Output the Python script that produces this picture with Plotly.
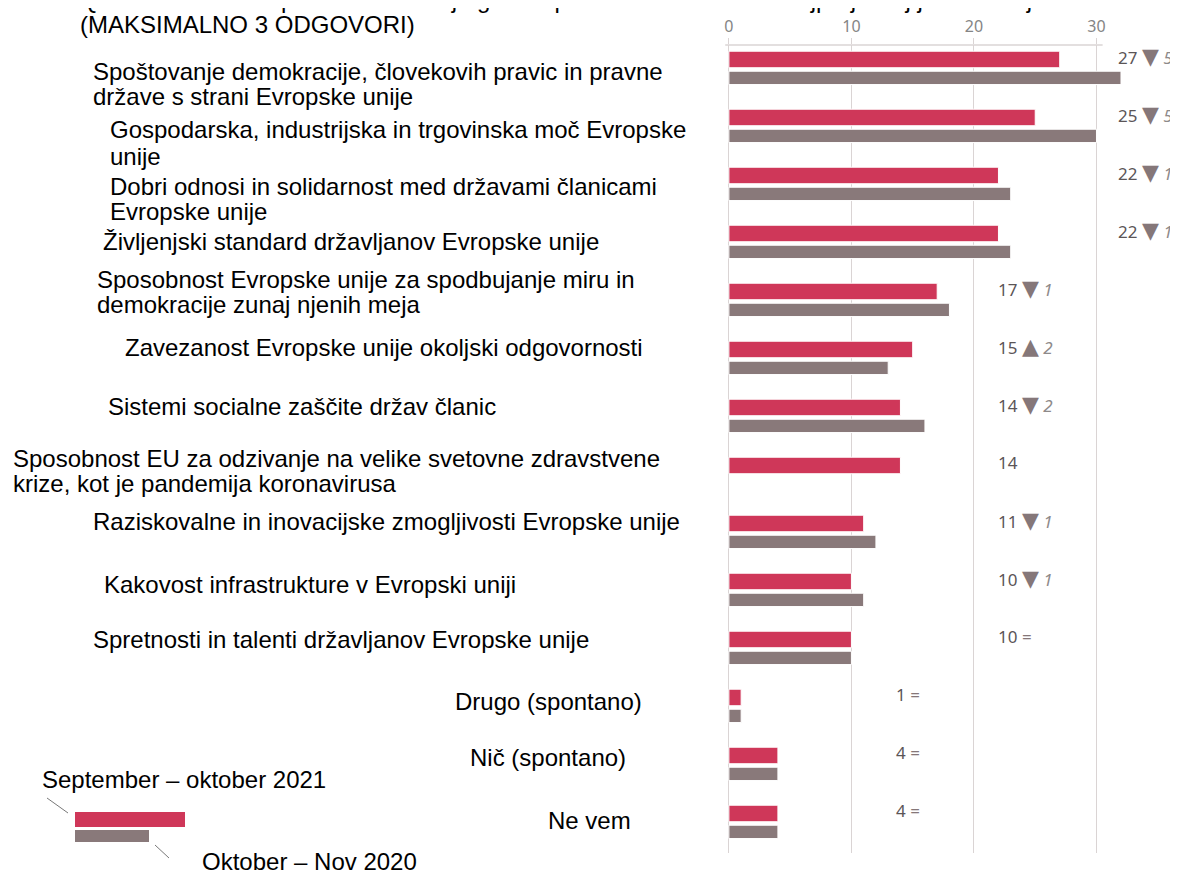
import plotly.graph_objects as go

# ---------------- data ----------------
CATEGORIES = [
    "Spoštovanje demokracije, človekovih pravic in pravne<br>države s strani Evropske unije",
    "Gospodarska, industrijska in trgovinska moč Evropske<br>unije",
    "Dobri odnosi in solidarnost med državami članicami<br>Evropske unije",
    "Življenjski standard državljanov Evropske unije",
    "Sposobnost Evropske unije za spodbujanje miru in<br>demokracije zunaj njenih meja",
    "Zavezanost Evropske unije okoljski odgovornosti",
    "Sistemi socialne zaščite držav članic",
    "Sposobnost EU za odzivanje na velike svetovne zdravstvene<br>krize, kot je pandemija koronavirusa",
    "Raziskovalne in inovacijske zmogljivosti Evropske unije",
    "Kakovost infrastrukture v Evropski uniji",
    "Spretnosti in talenti državljanov Evropske unije",
    "Drugo (spontano)",
    "Nič (spontano)",
    "Ne vem",
]
VAL_2021 = [27, 25, 22, 22, 17, 15, 14, 14, 11, 10, 10, 1, 4, 4]
VAL_2020 = [32, 30, 23, 23, 18, 13, 16, None, 12, 11, 10, 1, 4, 4]
SERIES_NAMES = ["September – oktober 2021", "Oktober – Nov 2020"]
TICKS = [0, 10, 20, 30]
TITLE_LINES = [
    "QA15T Kakšna so po vašem mnenju glavna prednost EU danes? Najprej? Kaj je naslednje?",
    "(MAKSIMALNO 3 ODGOVORI)",
]

# ---------------- styling / layout ----------------
RED = "#CF3759"
GREY = "#89797A"
GRID = "#DAD4D4"
# the page body has an 8px default margin: work in window pixels, convert to canvas
OX, OY = 8, 8
W, H = 1178 - OX, 874 - OY
PLOT_LEFT, PLOT_RIGHT, PLOT_TOP, PLOT_BOTTOM = 724, 1170, 45, 853   # window px
L = PLOT_LEFT - OX
R = W - (PLOT_RIGHT - OX)
T = PLOT_TOP - OY
B = H - (PLOT_BOTTOM - OY)
PW = PLOT_RIGHT - PLOT_LEFT
PH = PLOT_BOTTOM - PLOT_TOP

def xp(px):
    return (px - PLOT_LEFT) / PW

def yp(py):
    return (PLOT_BOTTOM - py) / PH

# label positions (left x px, center y px) in window pixels
LABEL_POS = [(91, 84), (108, 143), (108, 199), (101, 241), (95, 292), (123, 347),
             (106, 407), (11, 471), (91, 521), (102, 585), (91, 639), (453, 701),
             (468, 757), (546, 820)]
# right-hand value annotations: left x px per row
VALUE_X = [1116] * 4 + [996] * 7 + [894] * 3

LABEL_FONT = dict(family="Liberation Sans, Arial, sans-serif", size=24, color="#000000")
NUM_FONT = dict(family="Noto Sans, Open Sans, sans-serif", size=17, color="#5B5557")
TRI = "<span style='color:#857779;font-family:DejaVu Sans;font-size:22px'>{}</span>"
DELTA = "<i><span style='color:#8E8A8A'>{}</span></i>"

fig = go.Figure()
fig.add_trace(go.Bar(
    y=CATEGORIES, x=VAL_2021, name=SERIES_NAMES[0], orientation="h",
    offset=-0.29, width=0.285,
    marker=dict(color=RED, line=dict(color="#FFFFFF", width=1)),
))
fig.add_trace(go.Bar(
    y=CATEGORIES, x=VAL_2020, name=SERIES_NAMES[1], orientation="h",
    offset=0.055, width=0.23,
    marker=dict(color=GREY, line=dict(color="#FFFFFF", width=1)),
))

annotations = []

def text_block(lines, lx, cy, gap=26):
    n = len(lines)
    for i, line in enumerate(lines):
        y = cy + (i - (n - 1) / 2) * gap
        annotations.append(dict(
            text=line, xref="paper", yref="paper", x=xp(lx), y=yp(y),
            xanchor="left", yanchor="middle", align="left", showarrow=False,
            font=LABEL_FONT,
        ))

for cat, (lx, ly) in zip(CATEGORIES, LABEL_POS):
    text_block(cat.split("<br>"), lx, ly)

for cat, v21, v20, vx in zip(CATEGORIES, VAL_2021, VAL_2020, VALUE_X):
    if v20 is None:
        txt = f"{v21}"
    else:
        d = v21 - v20
        if d < 0:
            txt = f"{v21} " + TRI.format("▼") + " " + DELTA.format(abs(d))
        elif d > 0:
            txt = f"{v21} " + TRI.format("▲") + " " + DELTA.format(abs(d))
        else:
            txt = f"{v21} <span style='color:#857779'>=</span>"
    annotations.append(dict(
        text=txt, xref="paper", yref="y", x=xp(vx), y=cat, yshift=12,
        xanchor="left", yanchor="middle", showarrow=False, font=NUM_FONT,
    ))

# title (first line partly above the window as in the reference)
text_block(TITLE_LINES, 78, 12, gap=25)
# legend texts
text_block([SERIES_NAMES[0]], 40, 779)
text_block([SERIES_NAMES[1]], 200, 861)

shapes = [
    # top axis line
    dict(type="line", xref="x", yref="paper", x0=-0.3, x1=30.5, y0=1, y1=1,
         line=dict(color=GRID, width=1.3)),
    # legend swatches
    dict(type="rect", xref="paper", yref="paper", x0=xp(75), x1=xp(185), y0=yp(827), y1=yp(812),
         fillcolor=RED, line=dict(width=0), layer="above"),
    dict(type="rect", xref="paper", yref="paper", x0=xp(75), x1=xp(149), y0=yp(842), y1=yp(830),
         fillcolor=GREY, line=dict(width=0), layer="above"),
    # leader lines
    dict(type="line", xref="paper", yref="paper", x0=xp(47), x1=xp(68), y0=yp(798), y1=yp(813),
         line=dict(color="#555555", width=0.8)),
    dict(type="line", xref="paper", yref="paper", x0=xp(155), x1=xp(169), y0=yp(845), y1=yp(858),
         line=dict(color="#555555", width=0.8)),
]

fig.update_layout(
    width=W, height=H,
    margin=dict(l=L, r=R, t=T, b=B, pad=0),
    paper_bgcolor="white", plot_bgcolor="white",
    showlegend=False, barmode="group",
    annotations=annotations, shapes=shapes,
    xaxis=dict(
        side="top", range=[-0.4, 36], tickvals=TICKS, ticktext=[str(t) for t in TICKS],
        showgrid=True, gridcolor=GRID, gridwidth=1.2, zeroline=False, showline=False,
        ticks="outside", ticklen=6, tickcolor=GRID, tickwidth=1.2,
        tickfont=dict(family="Noto Sans, Open Sans, sans-serif", size=16, color="#858585"),
        ticklabelstandoff=0,
    ),
    yaxis=dict(
        type="category", categoryorder="array", categoryarray=CATEGORIES,
        range=[13.534, -0.397], showticklabels=False, showgrid=False, zeroline=False,
        showline=False, ticks="",
    ),
)

fig.write_html("out.html")
